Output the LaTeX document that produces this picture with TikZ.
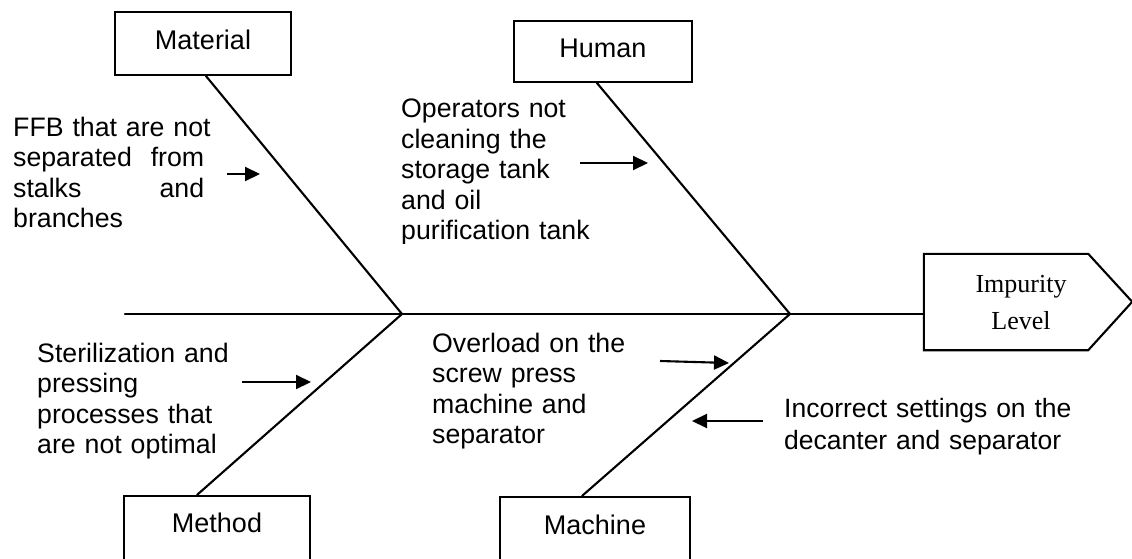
\documentclass[tikz,border=0pt]{standalone}
\usepackage{fontspec}
\setmainfont{Liberation Sans}
\newfontfamily\effectfont{Liberation Serif}
\usetikzlibrary{arrows.meta}

\tikzset{
  bone/.style={line width=2.1pt, line cap=round},
  catbox/.style={draw, line width=2.1pt, inner sep=0pt, font=\fontsize{27}{30.5}\selectfont},
  causetext/.style={anchor=base west, inner sep=0pt, align=left, font=\fontsize{26.7}{30.5}\selectfont},
  causearrow/.style={line width=2.1pt, -{Triangle[length=15pt,width=14pt]}}
}
\newcommand{\jline}[1]{\makebox[191pt][s]{#1}}

\begin{document}
\begin{tikzpicture}[x=1pt,y=-1pt]
\useasboundingbox (0,0) rectangle (1132,559);

% category boxes
\node[catbox, minimum width=176, minimum height=63] (material) at (203,43.5) {\raisebox{7pt}{Material}};
\node[catbox, minimum width=178, minimum height=61] (human) at (603,51.5) {\raisebox{7pt}{Human}};
\node[catbox, minimum width=186, minimum height=90] (method) at (217,541) {\raisebox{36pt}{Method}};
\node[catbox, minimum width=190, minimum height=90] (machine) at (595,542) {\raisebox{34pt}{Machine}};

% effect (head of the fish)
\node[inner sep=0pt, minimum width=164, minimum height=96] (effect) at (1006,302) {};
\draw[line width=2.1pt, line join=miter] (effect.north west) -- (effect.north east) -- ++(44,48)
  -- (effect.south east) -- (effect.south west) -- cycle;
\node[anchor=base, inner sep=0pt, text width=130pt, align=center,
      font=\effectfont\fontsize{26}{37}\selectfont] (effectlabel) at (1021,292) {Impurity\\Level};

% spine and bones
\coordinate (tail) at (125,314);
\coordinate (j1) at (402,314);
\coordinate (j2) at (790,314);
\draw[bone] (tail) -- ([yshift=-12pt]effect.west);
\draw[bone] ([xshift=3pt]material.south) -- (j1);
\draw[bone] ([xshift=-6pt]human.south) -- (j2);
\draw[bone] ([xshift=-20pt]method.north) -- (j1);
\draw[bone] ([xshift=-13pt]machine.north) -- (j2);

% cause texts
\node[causetext, text width=194pt] (ffb) at (13,136)
  {\jline{FFB that are not}\\\jline{separated\hfill from}\\\jline{stalks\hfill and}\\branches};
\begin{scope}
\clip (380,80) rectangle (700,243);
\node[causetext, text width=200pt] (operators) at (401,118)
  {Operators not\\cleaning the\\storage tank\\and oil\\purification tank};
\end{scope}
\node[causetext, text width=240pt] (steril) at (37,362)
  {Sterilization and\\pressing\\processes that\\are not optimal};
\node[causetext, text width=230pt] (overload) at (432,352)
  {Overload on the\\screw press\\machine and\\separator};
\node[causetext, text width=330pt, font=\fontsize{26.5}{32.5}\selectfont] (settings) at (784,417)
  {Incorrect settings on the\\decanter and separator};

% cause arrows
\coordinate (a1s) at (227,174); \coordinate (a1e) at (260,174);
\coordinate (a2s) at (580,163); \coordinate (a2e) at (648,163);
\coordinate (a3s) at (242,382); \coordinate (a3e) at (311,382);
\coordinate (a4s) at (660,361); \coordinate (a4e) at (729,363);
\coordinate (a5s) at (763,421); \coordinate (a5e) at (692,421);
\draw[causearrow] (a1s) -- (a1e);
\draw[causearrow] (a2s) -- (a2e);
\draw[causearrow] (a3s) -- (a3e);
\draw[causearrow] (a4s) -- (a4e);
\draw[causearrow] (a5s) -- (a5e);
\end{tikzpicture}
\end{document}
